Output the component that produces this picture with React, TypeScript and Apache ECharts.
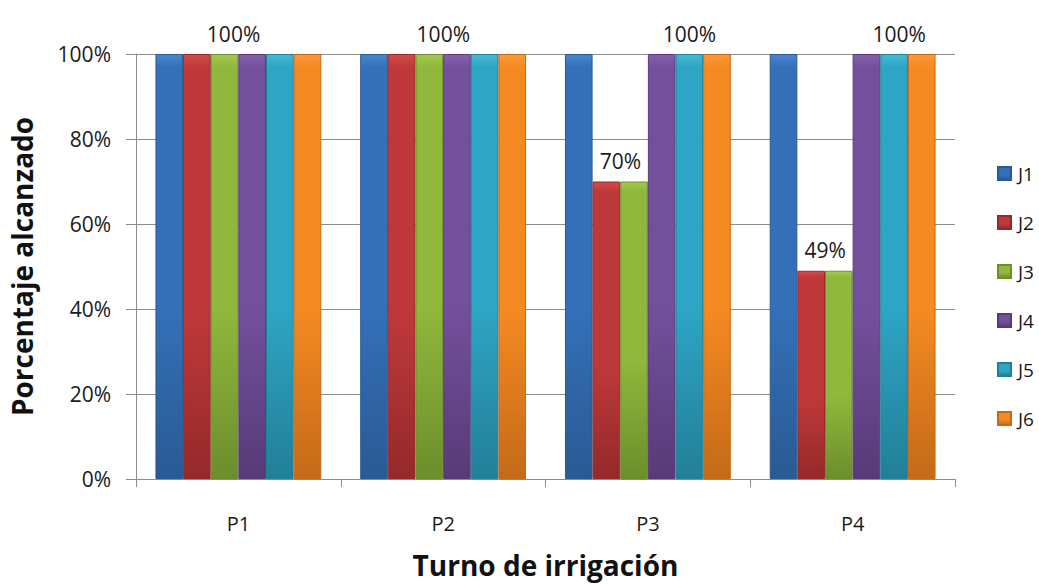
import React, { useEffect, useRef } from "react";
import * as echarts from "echarts";

// Irrigation turns and the share reached by each of J1..J6
const categories = ["P1", "P2", "P3", "P4"];
const seriesNames = ["J1", "J2", "J3", "J4", "J5", "J6"];
const j1 = [100, 100, 100, 100];
const j2 = [100, 100, 70, 49];
const j3 = [100, 100, 70, 49];
const j4 = [100, 100, 100, 100];
const j5 = [100, 100, 100, 100];
const j6 = [100, 100, 100, 100];
const yTicks = [0, 20, 40, 60, 80, 100];

// [top, middle, bottom] shades per series
const palette = [
  ["#4a86cc", "#3470b8", "#2a5a94"],
  ["#d24c4c", "#c0393a", "#95292a"],
  ["#a4c94e", "#8fb83c", "#6c8e2c"],
  ["#8662ad", "#73509c", "#573b78"],
  ["#45b9d6", "#2ea5c4", "#227f98"],
  ["#fb9a3a", "#f58a22", "#c46a18"],
];

// Which bar carries each value label
const labelHost: Record<number, number> = { 0: 2, 1: 2, 2: 1, 3: 1 };
const labelHostTop: Record<number, number> = { 2: 4, 3: 4 };

const FONT = "'Open Sans', 'Liberation Sans', sans-serif";

export default function App() {
  const ref = useRef<HTMLDivElement>(null);

  useEffect(() => {
    if (!ref.current) return;
    const chart = echarts.init(ref.current, undefined, { renderer: "svg" });
    const all = [j1, j2, j3, j4, j5, j6];

    const series = all.map((vals, si) => {
      const [c0, c1, c2] = palette[si];
      const data = vals.map((v, ci) => {
        let show = false;
        let dx = 0;
        if (labelHost[ci] === si && v < 100) {
          show = true;
          dx = 14;
        }
        if (ci <= 1 && si === 2) {
          show = true;
          dx = ci === 0 ? 9 : 14;
        }
        if (labelHostTop[ci] === si) {
          show = true;
          dx = ci === 2 ? 0 : 5;
        }
        return {
          value: v,
          label: {
            show,
            position: "top",
            distance: 10,
            offset: [dx, 0],
            formatter: (p: any) => `${p.value}%`,
            fontFamily: FONT,
            fontSize: 21,
            color: "#1a1a1a",
          },
        };
      });
      return {
        name: seriesNames[si],
        type: "bar",
        barGap: "0%",
        barCategoryGap: "19%",
        data,
        itemStyle: {
          color: new echarts.graphic.LinearGradient(0, 0, 0, 1, [
            { offset: 0, color: c0 },
            { offset: 0.03, color: c1 },
            { offset: 0.6, color: c1 },
            { offset: 1, color: c2 },
          ]),
          borderColor: c2,
          borderWidth: 1,
        },
      };
    });

    chart.setOption({
      animation: false,
      backgroundColor: "#ffffff",
      textStyle: { fontFamily: FONT },
      grid: { left: 134, right: 84, top: 54, bottom: 105, containLabel: false },
      legend: {
        orient: "vertical",
        left: 992,
        top: 159,
        itemWidth: 13,
        itemHeight: 13,
        itemGap: 30,
        icon: "rect",
        data: seriesNames,
        textStyle: { fontFamily: FONT, fontSize: 19, color: "#1a1a1a", padding: [0, 0, 0, 2] },
      },
      xAxis: {
        type: "category",
        data: categories,
        name: "Turno de irrigación",
        nameLocation: "middle",
        nameGap: 72,
        nameTextStyle: { fontFamily: FONT, fontSize: 28, fontWeight: "bold", color: "#111" },
        axisLine: { lineStyle: { color: "#8c8c8c", width: 1 } },
        axisTick: { show: true, length: 8, lineStyle: { color: "#8c8c8c" } },
        axisLabel: { margin: 34, fontFamily: FONT, fontSize: 20, color: "#1a1a1a" },
      },
      yAxis: {
        type: "value",
        min: 0,
        max: 100,
        interval: 20,
        name: "Porcentaje alcanzado",
        nameLocation: "middle",
        nameGap: 100,
        nameRotate: 90,
        nameTextStyle: { fontFamily: FONT, fontSize: 28, fontWeight: "bold", color: "#111" },
        axisLine: { show: true, lineStyle: { color: "#8c8c8c", width: 1 } },
        axisTick: { show: true, length: 10, lineStyle: { color: "#8c8c8c" } },
        splitLine: { show: true, lineStyle: { color: "#8c8c8c", width: 1 } },
        axisLabel: {
          margin: 25,
          fontFamily: FONT,
          fontSize: 21,
          color: "#1a1a1a",
          formatter: (v: number) => (yTicks.includes(v) ? `${v}%` : ""),
        },
      },
      series,
    });

    return () => chart.dispose();
  }, []);

  return <div ref={ref} style={{ width: 1039, height: 584, position: "absolute", left: 0, top: 0 }} />;
}
